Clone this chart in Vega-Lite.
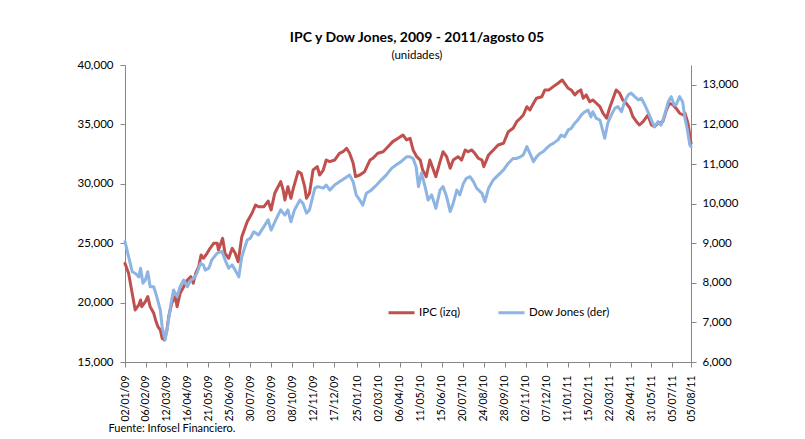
{
  "$schema": "https://vega.github.io/schema/vega-lite/v6.json",
  "width": 566,
  "height": 297,
  "autosize": {"type": "none"},
  "padding": {"left": 125, "top": 65, "right": 114, "bottom": 77},
  "background": "white",
  "title": {
    "text": "IPC y Dow Jones, 2009 - 2011/agosto 05",
    "subtitle": "(unidades)",
    "fontSize": 14,
    "fontWeight": "bold",
    "font": "Lato",
    "subtitleFont": "Lato",
    "subtitleFontSize": 11.5,
    "subtitlePadding": 5,
    "anchor": "middle",
    "dx": 9,
    "offset": -2,
    "color": "#000000",
    "subtitleColor": "#000000"
  },
  "datasets": {
    "ipc": [
      {"date": "2009-01-02", "value": 23300},
      {"date": "2009-01-08", "value": 22470},
      {"date": "2009-01-14", "value": 20780},
      {"date": "2009-01-19", "value": 19380},
      {"date": "2009-01-25", "value": 19800},
      {"date": "2009-01-28", "value": 20220},
      {"date": "2009-01-30", "value": 19660},
      {"date": "2009-02-05", "value": 20080},
      {"date": "2009-02-09", "value": 20500},
      {"date": "2009-02-13", "value": 19660},
      {"date": "2009-02-19", "value": 19100},
      {"date": "2009-02-22", "value": 18540},
      {"date": "2009-02-26", "value": 17970},
      {"date": "2009-03-02", "value": 17690},
      {"date": "2009-03-05", "value": 17000},
      {"date": "2009-03-09", "value": 16850},
      {"date": "2009-03-13", "value": 17690},
      {"date": "2009-03-16", "value": 18820},
      {"date": "2009-03-21", "value": 19940},
      {"date": "2009-03-27", "value": 20500},
      {"date": "2009-03-30", "value": 19660},
      {"date": "2009-04-04", "value": 20780},
      {"date": "2009-04-10", "value": 21340},
      {"date": "2009-04-16", "value": 21900},
      {"date": "2009-04-22", "value": 22180},
      {"date": "2009-04-26", "value": 21630},
      {"date": "2009-04-30", "value": 22470},
      {"date": "2009-05-05", "value": 23020},
      {"date": "2009-05-09", "value": 24010},
      {"date": "2009-05-13", "value": 23730},
      {"date": "2009-05-19", "value": 24150},
      {"date": "2009-05-24", "value": 24570},
      {"date": "2009-05-30", "value": 24990},
      {"date": "2009-06-05", "value": 24990},
      {"date": "2009-06-07", "value": 24430},
      {"date": "2009-06-14", "value": 25410},
      {"date": "2009-06-18", "value": 24150},
      {"date": "2009-06-24", "value": 23730},
      {"date": "2009-06-30", "value": 24570},
      {"date": "2009-07-05", "value": 24150},
      {"date": "2009-07-10", "value": 23440},
      {"date": "2009-07-16", "value": 25550},
      {"date": "2009-07-25", "value": 26810},
      {"date": "2009-08-02", "value": 27520},
      {"date": "2009-08-08", "value": 28220},
      {"date": "2009-08-13", "value": 28070},
      {"date": "2009-08-22", "value": 28070},
      {"date": "2009-08-29", "value": 28550},
      {"date": "2009-09-03", "value": 27800},
      {"date": "2009-09-09", "value": 29200},
      {"date": "2009-09-19", "value": 30180},
      {"date": "2009-09-23", "value": 29480},
      {"date": "2009-09-26", "value": 28640},
      {"date": "2009-10-01", "value": 29760},
      {"date": "2009-10-06", "value": 28780},
      {"date": "2009-10-10", "value": 29620},
      {"date": "2009-10-18", "value": 31020},
      {"date": "2009-10-23", "value": 30890},
      {"date": "2009-10-29", "value": 29760},
      {"date": "2009-11-01", "value": 28780},
      {"date": "2009-11-06", "value": 29200},
      {"date": "2009-11-12", "value": 31160},
      {"date": "2009-11-19", "value": 31440},
      {"date": "2009-11-23", "value": 30740},
      {"date": "2009-11-29", "value": 31160},
      {"date": "2009-12-04", "value": 32000},
      {"date": "2009-12-10", "value": 31860},
      {"date": "2009-12-18", "value": 32000},
      {"date": "2009-12-26", "value": 32570},
      {"date": "2010-01-01", "value": 32700},
      {"date": "2010-01-07", "value": 32990},
      {"date": "2010-01-12", "value": 32570},
      {"date": "2010-01-18", "value": 31730},
      {"date": "2010-01-22", "value": 30600},
      {"date": "2010-01-29", "value": 30740},
      {"date": "2010-02-06", "value": 31020},
      {"date": "2010-02-15", "value": 32000},
      {"date": "2010-02-20", "value": 32150},
      {"date": "2010-02-28", "value": 32570},
      {"date": "2010-03-09", "value": 32700},
      {"date": "2010-03-17", "value": 33120},
      {"date": "2010-03-25", "value": 33550},
      {"date": "2010-04-03", "value": 33830},
      {"date": "2010-04-11", "value": 34110},
      {"date": "2010-04-17", "value": 33690},
      {"date": "2010-04-23", "value": 33830},
      {"date": "2010-04-28", "value": 32850},
      {"date": "2010-05-04", "value": 32280},
      {"date": "2010-05-10", "value": 32000},
      {"date": "2010-05-14", "value": 31160},
      {"date": "2010-05-20", "value": 30600},
      {"date": "2010-05-26", "value": 32000},
      {"date": "2010-06-01", "value": 31160},
      {"date": "2010-06-05", "value": 30600},
      {"date": "2010-06-12", "value": 31860},
      {"date": "2010-06-17", "value": 32700},
      {"date": "2010-06-23", "value": 32280},
      {"date": "2010-06-29", "value": 31310},
      {"date": "2010-07-04", "value": 32000},
      {"date": "2010-07-12", "value": 32280},
      {"date": "2010-07-18", "value": 32000},
      {"date": "2010-07-24", "value": 32850},
      {"date": "2010-07-29", "value": 32700},
      {"date": "2010-08-04", "value": 32850},
      {"date": "2010-08-09", "value": 32570},
      {"date": "2010-08-15", "value": 32150},
      {"date": "2010-08-21", "value": 32000},
      {"date": "2010-08-24", "value": 31440},
      {"date": "2010-09-01", "value": 32430},
      {"date": "2010-09-09", "value": 32850},
      {"date": "2010-09-17", "value": 33270},
      {"date": "2010-09-26", "value": 33410},
      {"date": "2010-10-04", "value": 34390},
      {"date": "2010-10-12", "value": 34670},
      {"date": "2010-10-18", "value": 35230},
      {"date": "2010-10-24", "value": 35520},
      {"date": "2010-10-29", "value": 35790},
      {"date": "2010-11-04", "value": 36490},
      {"date": "2010-11-09", "value": 36210},
      {"date": "2010-11-15", "value": 36780},
      {"date": "2010-11-20", "value": 37200},
      {"date": "2010-11-29", "value": 37330},
      {"date": "2010-12-04", "value": 37900},
      {"date": "2010-12-11", "value": 37900},
      {"date": "2010-12-18", "value": 38180},
      {"date": "2010-12-26", "value": 38460},
      {"date": "2011-01-02", "value": 38740},
      {"date": "2011-01-06", "value": 38460},
      {"date": "2011-01-12", "value": 38040},
      {"date": "2011-01-17", "value": 37900},
      {"date": "2011-01-23", "value": 37480},
      {"date": "2011-01-28", "value": 37750},
      {"date": "2011-02-02", "value": 37900},
      {"date": "2011-02-06", "value": 37200},
      {"date": "2011-02-11", "value": 37480},
      {"date": "2011-02-17", "value": 36910},
      {"date": "2011-02-22", "value": 37060},
      {"date": "2011-02-28", "value": 36780},
      {"date": "2011-03-06", "value": 36490},
      {"date": "2011-03-11", "value": 35940},
      {"date": "2011-03-17", "value": 35520},
      {"date": "2011-03-22", "value": 36360},
      {"date": "2011-03-28", "value": 37200},
      {"date": "2011-04-02", "value": 37900},
      {"date": "2011-04-08", "value": 37620},
      {"date": "2011-04-13", "value": 37060},
      {"date": "2011-04-19", "value": 36780},
      {"date": "2011-04-25", "value": 36360},
      {"date": "2011-04-30", "value": 35650},
      {"date": "2011-05-06", "value": 35230},
      {"date": "2011-05-11", "value": 34950},
      {"date": "2011-05-17", "value": 35230},
      {"date": "2011-05-25", "value": 35790},
      {"date": "2011-05-31", "value": 34950},
      {"date": "2011-06-05", "value": 34810},
      {"date": "2011-06-11", "value": 35090},
      {"date": "2011-06-19", "value": 35230},
      {"date": "2011-06-25", "value": 36210},
      {"date": "2011-06-30", "value": 36780},
      {"date": "2011-07-06", "value": 36640},
      {"date": "2011-07-11", "value": 36360},
      {"date": "2011-07-17", "value": 35940},
      {"date": "2011-07-23", "value": 35790},
      {"date": "2011-07-26", "value": 35940},
      {"date": "2011-07-31", "value": 35090},
      {"date": "2011-08-05", "value": 33410}
    ],
    "dj": [
      {"date": "2009-01-02", "value": 9040},
      {"date": "2009-01-08", "value": 8660},
      {"date": "2009-01-14", "value": 8280},
      {"date": "2009-01-19", "value": 8240},
      {"date": "2009-01-25", "value": 8150},
      {"date": "2009-01-28", "value": 8370},
      {"date": "2009-02-01", "value": 7990},
      {"date": "2009-02-05", "value": 8070},
      {"date": "2009-02-09", "value": 8280},
      {"date": "2009-02-13", "value": 7900},
      {"date": "2009-02-19", "value": 7900},
      {"date": "2009-02-24", "value": 7650},
      {"date": "2009-03-02", "value": 7310},
      {"date": "2009-03-05", "value": 6890},
      {"date": "2009-03-10", "value": 6560},
      {"date": "2009-03-14", "value": 6890},
      {"date": "2009-03-19", "value": 7400},
      {"date": "2009-03-24", "value": 7820},
      {"date": "2009-03-30", "value": 7650},
      {"date": "2009-04-04", "value": 7900},
      {"date": "2009-04-10", "value": 8070},
      {"date": "2009-04-16", "value": 7900},
      {"date": "2009-04-22", "value": 8070},
      {"date": "2009-04-27", "value": 8110},
      {"date": "2009-05-02", "value": 8240},
      {"date": "2009-05-08", "value": 8490},
      {"date": "2009-05-13", "value": 8450},
      {"date": "2009-05-16", "value": 8320},
      {"date": "2009-05-22", "value": 8370},
      {"date": "2009-05-27", "value": 8580},
      {"date": "2009-06-05", "value": 8750},
      {"date": "2009-06-13", "value": 8790},
      {"date": "2009-06-18", "value": 8580},
      {"date": "2009-06-24", "value": 8370},
      {"date": "2009-06-30", "value": 8450},
      {"date": "2009-07-05", "value": 8320},
      {"date": "2009-07-11", "value": 8150},
      {"date": "2009-07-16", "value": 8660},
      {"date": "2009-07-25", "value": 9080},
      {"date": "2009-07-30", "value": 9120},
      {"date": "2009-08-05", "value": 9290},
      {"date": "2009-08-13", "value": 9210},
      {"date": "2009-08-22", "value": 9420},
      {"date": "2009-08-29", "value": 9590},
      {"date": "2009-09-03", "value": 9330},
      {"date": "2009-09-12", "value": 9630},
      {"date": "2009-09-19", "value": 9840},
      {"date": "2009-09-26", "value": 9710},
      {"date": "2009-10-01", "value": 9840},
      {"date": "2009-10-06", "value": 9540},
      {"date": "2009-10-12", "value": 9840},
      {"date": "2009-10-21", "value": 10090},
      {"date": "2009-10-26", "value": 10010},
      {"date": "2009-11-01", "value": 9760},
      {"date": "2009-11-06", "value": 9840},
      {"date": "2009-11-15", "value": 10390},
      {"date": "2009-11-20", "value": 10430},
      {"date": "2009-11-29", "value": 10390},
      {"date": "2009-12-04", "value": 10470},
      {"date": "2009-12-10", "value": 10340},
      {"date": "2009-12-18", "value": 10470},
      {"date": "2009-12-26", "value": 10550},
      {"date": "2010-01-04", "value": 10640},
      {"date": "2010-01-12", "value": 10720},
      {"date": "2010-01-18", "value": 10550},
      {"date": "2010-01-23", "value": 10220},
      {"date": "2010-01-29", "value": 10090},
      {"date": "2010-02-03", "value": 9960},
      {"date": "2010-02-09", "value": 10260},
      {"date": "2010-02-17", "value": 10340},
      {"date": "2010-02-26", "value": 10470},
      {"date": "2010-03-06", "value": 10600},
      {"date": "2010-03-14", "value": 10720},
      {"date": "2010-03-23", "value": 10890},
      {"date": "2010-03-31", "value": 10980},
      {"date": "2010-04-08", "value": 11060},
      {"date": "2010-04-17", "value": 11180},
      {"date": "2010-04-23", "value": 11180},
      {"date": "2010-04-28", "value": 11140},
      {"date": "2010-05-03", "value": 10930},
      {"date": "2010-05-07", "value": 10430},
      {"date": "2010-05-12", "value": 10770},
      {"date": "2010-05-18", "value": 10430},
      {"date": "2010-05-23", "value": 10090},
      {"date": "2010-05-29", "value": 10220},
      {"date": "2010-06-05", "value": 9880},
      {"date": "2010-06-12", "value": 10340},
      {"date": "2010-06-17", "value": 10430},
      {"date": "2010-06-23", "value": 10170},
      {"date": "2010-06-29", "value": 9800},
      {"date": "2010-07-04", "value": 10010},
      {"date": "2010-07-10", "value": 10340},
      {"date": "2010-07-15", "value": 10220},
      {"date": "2010-07-21", "value": 10510},
      {"date": "2010-07-26", "value": 10640},
      {"date": "2010-08-01", "value": 10680},
      {"date": "2010-08-07", "value": 10550},
      {"date": "2010-08-12", "value": 10390},
      {"date": "2010-08-21", "value": 10260},
      {"date": "2010-08-26", "value": 10050},
      {"date": "2010-09-01", "value": 10390},
      {"date": "2010-09-09", "value": 10600},
      {"date": "2010-09-17", "value": 10720},
      {"date": "2010-09-26", "value": 10850},
      {"date": "2010-10-04", "value": 11020},
      {"date": "2010-10-12", "value": 11140},
      {"date": "2010-10-18", "value": 11140},
      {"date": "2010-10-24", "value": 11180},
      {"date": "2010-10-29", "value": 11230},
      {"date": "2010-11-04", "value": 11440},
      {"date": "2010-11-09", "value": 11270},
      {"date": "2010-11-15", "value": 11060},
      {"date": "2010-11-20", "value": 11180},
      {"date": "2010-11-26", "value": 11270},
      {"date": "2010-12-01", "value": 11310},
      {"date": "2010-12-07", "value": 11400},
      {"date": "2010-12-13", "value": 11480},
      {"date": "2010-12-18", "value": 11520},
      {"date": "2010-12-26", "value": 11610},
      {"date": "2010-12-31", "value": 11730},
      {"date": "2011-01-06", "value": 11690},
      {"date": "2011-01-12", "value": 11860},
      {"date": "2011-01-17", "value": 11900},
      {"date": "2011-01-23", "value": 12030},
      {"date": "2011-01-28", "value": 12110},
      {"date": "2011-02-03", "value": 12240},
      {"date": "2011-02-09", "value": 12320},
      {"date": "2011-02-14", "value": 12360},
      {"date": "2011-02-19", "value": 12190},
      {"date": "2011-02-22", "value": 12320},
      {"date": "2011-02-28", "value": 12150},
      {"date": "2011-03-06", "value": 12110},
      {"date": "2011-03-09", "value": 11940},
      {"date": "2011-03-14", "value": 11650},
      {"date": "2011-03-19", "value": 12030},
      {"date": "2011-03-25", "value": 12240},
      {"date": "2011-03-31", "value": 12410},
      {"date": "2011-04-05", "value": 12450},
      {"date": "2011-04-11", "value": 12320},
      {"date": "2011-04-16", "value": 12570},
      {"date": "2011-04-22", "value": 12740},
      {"date": "2011-04-27", "value": 12790},
      {"date": "2011-05-03", "value": 12700},
      {"date": "2011-05-09", "value": 12620},
      {"date": "2011-05-14", "value": 12660},
      {"date": "2011-05-20", "value": 12490},
      {"date": "2011-05-25", "value": 12320},
      {"date": "2011-05-31", "value": 12110},
      {"date": "2011-06-05", "value": 11940},
      {"date": "2011-06-11", "value": 12070},
      {"date": "2011-06-16", "value": 11980},
      {"date": "2011-06-22", "value": 12240},
      {"date": "2011-06-28", "value": 12570},
      {"date": "2011-07-03", "value": 12700},
      {"date": "2011-07-08", "value": 12490},
      {"date": "2011-07-11", "value": 12490},
      {"date": "2011-07-17", "value": 12700},
      {"date": "2011-07-22", "value": 12570},
      {"date": "2011-07-26", "value": 12150},
      {"date": "2011-07-30", "value": 11860},
      {"date": "2011-08-03", "value": 11480},
      {"date": "2011-08-05", "value": 11440}
    ]
  },
  "encoding": {
    "x": {
      "field": "date",
      "type": "temporal",
      "scale": {
        "type": "utc",
        "nice": false,
        "domain": [
          {"year": 2009, "month": 1, "date": 2, "utc": true},
          {"year": 2011, "month": 8, "date": 5, "utc": true}
        ]
      },
      "axis": {
        "title": "Fuente:  Infosel Financiero.",
        "titleFont": "Lato",
        "titleFontSize": 11,
        "titleFontWeight": "normal",
        "titleColor": "#000000",
        "titleAnchor": "start",
        "titleAlign": "left",
        "titleBaseline": "alphabetic",
        "titleX": -17,
        "titleY": 69,
        "labelExpr": "utcFormat(datum.value, '%d/%m/%y')",
        "labelAngle": -90,
        "labelFontSize": 10.5,
        "labelPadding": 8,
        "labelOverlap": false,
        "labelBound": false,
        "labelFlush": false,
        "tickSize": 5,
        "grid": false,
        "values": [
          {"year": 2009, "month": 1, "date": 2, "utc": true},
          {"year": 2009, "month": 2, "date": 6, "utc": true},
          {"year": 2009, "month": 3, "date": 12, "utc": true},
          {"year": 2009, "month": 4, "date": 16, "utc": true},
          {"year": 2009, "month": 5, "date": 21, "utc": true},
          {"year": 2009, "month": 6, "date": 25, "utc": true},
          {"year": 2009, "month": 7, "date": 30, "utc": true},
          {"year": 2009, "month": 9, "date": 3, "utc": true},
          {"year": 2009, "month": 10, "date": 8, "utc": true},
          {"year": 2009, "month": 11, "date": 12, "utc": true},
          {"year": 2009, "month": 12, "date": 17, "utc": true},
          {"year": 2010, "month": 1, "date": 25, "utc": true},
          {"year": 2010, "month": 3, "date": 2, "utc": true},
          {"year": 2010, "month": 4, "date": 6, "utc": true},
          {"year": 2010, "month": 5, "date": 11, "utc": true},
          {"year": 2010, "month": 6, "date": 15, "utc": true},
          {"year": 2010, "month": 7, "date": 20, "utc": true},
          {"year": 2010, "month": 8, "date": 24, "utc": true},
          {"year": 2010, "month": 9, "date": 28, "utc": true},
          {"year": 2010, "month": 11, "date": 2, "utc": true},
          {"year": 2010, "month": 12, "date": 7, "utc": true},
          {"year": 2011, "month": 1, "date": 11, "utc": true},
          {"year": 2011, "month": 2, "date": 15, "utc": true},
          {"year": 2011, "month": 3, "date": 22, "utc": true},
          {"year": 2011, "month": 4, "date": 26, "utc": true},
          {"year": 2011, "month": 5, "date": 31, "utc": true},
          {"year": 2011, "month": 7, "date": 5, "utc": true},
          {"year": 2011, "month": 8, "date": 5, "utc": true}
        ]
      }
    }
  },
  "layer": [
    {
      "data": {"name": "ipc"},
      "mark": {"type": "line", "strokeWidth": 3, "strokeJoin": "round", "strokeCap": "round"},
      "encoding": {
        "y": {
          "field": "value",
          "type": "quantitative",
          "scale": {"domain": [15000, 40000], "nice": false, "zero": false},
          "axis": {
            "orient": "left",
            "title": null,
            "values": [15000, 20000, 25000, 30000, 35000, 40000],
            "format": ",d",
            "labelFontSize": 11.5,
            "labelPadding": 7,
            "tickSize": 5,
            "grid": false
          }
        },
        "color": {
          "datum": "IPC (izq)",
          "type": "nominal",
          "scale": {"domain": ["IPC (izq)", "Dow Jones (der)"], "range": ["#c0504d", "#8db4e2"]},
          "legend": {
            "orient": "none",
            "legendX": 262,
            "legendY": 233,
            "direction": "horizontal",
            "title": null,
            "symbolType": "stroke",
            "symbolSize": 676,
            "symbolStrokeWidth": 3,
            "labelFontSize": 11.5,
            "labelFont": "Lato",
            "labelColor": "#000000",
            "labelOffset": 3,
            "columnPadding": 31,
            "padding": 0
          }
        }
      }
    },
    {
      "data": {"name": "dj"},
      "mark": {"type": "line", "strokeWidth": 3, "strokeJoin": "round", "strokeCap": "round"},
      "encoding": {
        "y": {
          "field": "value",
          "type": "quantitative",
          "scale": {"domain": [6000, 13500], "nice": false, "zero": false},
          "axis": {
            "orient": "right",
            "title": null,
            "values": [6000, 7000, 8000, 9000, 10000, 11000, 12000, 13000],
            "format": ",d",
            "labelFontSize": 11.5,
            "labelPadding": 6,
            "tickSize": 5,
            "grid": false
          }
        },
        "color": {"datum": "Dow Jones (der)", "type": "nominal"}
      }
    }
  ],
  "resolve": {"scale": {"y": "independent"}},
  "config": {
    "font": "Lato",
    "view": {"stroke": null},
    "axis": {
      "labelFont": "Lato",
      "labelColor": "#000000",
      "domainColor": "#868686",
      "tickColor": "#868686",
      "domainWidth": 1,
      "tickWidth": 1
    },
    "legend": {"labelFont": "Lato"}
  }
}
